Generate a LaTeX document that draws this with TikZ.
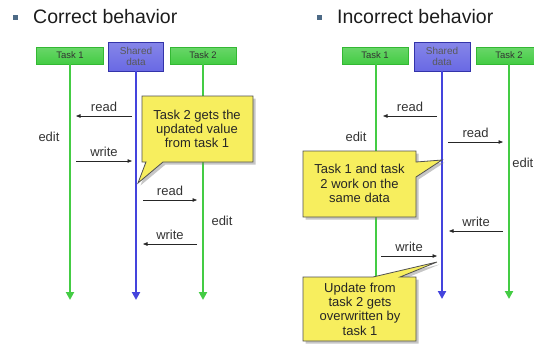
\documentclass[tikz,border=0pt]{standalone}
\usepackage{fontspec}
\setmainfont{Liberation Sans}
\usetikzlibrary{arrows.meta,shadows}

\definecolor{taskline}{HTML}{44CC44}
\definecolor{taskedge}{HTML}{33B833}
\definecolor{datline}{HTML}{4444DD}
\definecolor{datedge}{HTML}{3333AA}
\definecolor{notefill}{HTML}{F7EE5E}
\definecolor{noteedge}{HTML}{505050}
\definecolor{bulletc}{HTML}{4D6A86}
\definecolor{inkc}{HTML}{1C1C1C}

\tikzset{
  taskbox/.style={draw=taskedge, line width=0.8pt, top color=taskline!80!white,
    middle color=taskline!45!white, bottom color=taskline, minimum width=66pt,
    minimum height=17pt, inner sep=0pt, font=\fontsize{9.5}{10}\selectfont,
    text=black!80},
  databox/.style={draw=datedge, line width=0.8pt, top color=datline!65!white,
    middle color=datline!35!white, bottom color=datline!80!white, minimum width=56pt,
    minimum height=29pt, inner sep=0pt, align=center,
    font=\fontsize{10}{10.5}\selectfont, text=black!65},
  life/.style={line width=2.6pt, -{Triangle[width=8pt,length=8pt]}},
  tasklife/.style={life, taskline},
  datalife/.style={life, datline},
  msg/.style={line width=0.6pt, black!85, -{Triangle[width=3.5pt,length=4.5pt]}},
  lbl/.style={font=\fontsize{13}{14}\selectfont, text=black!80, inner sep=0pt},
  note/.style={fill=notefill, draw=noteedge, line width=0.8pt,
    drop shadow={shadow xshift=2.5pt, shadow yshift=-2.5pt, opacity=0.45}},
  notetext/.style={align=center, inner sep=0pt, text=black!85,
    font=\fontsize{13}{14.3}\selectfont},
  heading/.style={anchor=base west, inner sep=0pt, text=inkc,
    font=\fontsize{19.5}{20}\selectfont},
  bullet/.style={fill=bulletc, draw=none, minimum size=5pt, inner sep=0pt}
}

\begin{document}
\begin{tikzpicture}[x=1pt, y=-1pt]
\useasboundingbox (0,0) rectangle (534,343);

% ---------------- left: correct behaviour ----------------
\node[bullet] (bL) at (15,17.5) {};
\node[heading] (hL) at (33,23) {Correct behavior};

\node[taskbox, minimum width=67pt] (t1L) at (70,55.5) {Task 1};
\node[databox, minimum width=55pt] (sdL) at (136,56.5) {Shared\\data};
\node[taskbox] (t2L) at (203,55.5) {Task 2};

\coordinate (t1Lend) at (70,300);
\coordinate (sdLend) at (136,300);
\coordinate (t2Lend) at (203,300);
\draw[tasklife] (t1L.south) -- (t1Lend);
\draw[datalife] (sdL.south) -- (sdLend);
\draw[tasklife] (t2L.south) -- (t2Lend);

\coordinate (rdLa) at (132,116); \coordinate (rdLb) at (76,116);
\coordinate (wrLa) at (76,161);  \coordinate (wrLb) at (132,161);
\coordinate (rdLc) at (143,200); \coordinate (rdLd) at (197,200);
\coordinate (wrLc) at (197,244); \coordinate (wrLd) at (143,244);
\draw[msg] (rdLa) -- (rdLb) node[lbl, midway, anchor=base, yshift=5pt] (rdLt) {read};
\draw[msg] (wrLa) -- (wrLb) node[lbl, midway, anchor=base, yshift=5pt] (wrLt) {write};
\draw[msg] (rdLc) -- (rdLd) node[lbl, midway, anchor=base, yshift=5pt] (rdLu) {read};
\draw[msg] (wrLc) -- (wrLd) node[lbl, midway, anchor=base, yshift=5pt] (wrLu) {write};
\node[lbl] (edL1) at (49,137) {edit};
\node[lbl] (edL2) at (222,221) {edit};

\path[note] (142,96) -- (253,96) -- (253,162) -- (163,162) -- (138,183)
  -- (146,162) -- (142,162) -- cycle;
\node[notetext] (nL) at (197,129) {Task 2 gets the\\updated value\\from task 1};

% ---------------- right: incorrect behaviour ----------------
\node[bullet] (bR) at (319.5,17) {};
\node[heading] (hR) at (337,23) {Incorrect behavior};

\node[taskbox] (t1R) at (375,55.5) {Task 1};
\node[databox] (sdR) at (442,56.5) {Shared\\data};
\node[taskbox] (t2R) at (509,55.5) {Task 2};

\coordinate (t1Rend) at (376,299);
\coordinate (sdRend) at (442,299);
\coordinate (t2Rend) at (509,299);
\draw[tasklife] (t1R.south -| t1Rend) -- (t1Rend);
\draw[datalife] (sdR.south) -- (sdRend);
\draw[tasklife] (t2R.south) -- (t2Rend);

\coordinate (rdRa) at (437,116); \coordinate (rdRb) at (383,116);
\coordinate (rdRc) at (448,142); \coordinate (rdRd) at (503,142);
\coordinate (wrRc) at (503,231); \coordinate (wrRd) at (449,231);
\coordinate (wrRa) at (381,256); \coordinate (wrRb) at (437,256);
\draw[msg] (rdRa) -- (rdRb) node[lbl, midway, anchor=base, yshift=5pt] (rdRt) {read};
\draw[msg] (rdRc) -- (rdRd) node[lbl, midway, anchor=base, yshift=5pt] (rdRu) {read};
\draw[msg] (wrRc) -- (wrRd) node[lbl, midway, anchor=base, yshift=5pt] (wrRu) {write};
\draw[msg] (wrRa) -- (wrRb) node[lbl, midway, anchor=base, yshift=5pt] (wrRt) {write};
\node[lbl] (edR1) at (356,137) {edit};
\node[lbl, anchor=east] (edR2) at (533.5,163) {edit};

\path[note] (303,151) -- (416,151) -- (416,162) -- (442,160) -- (416,177)
  -- (416,217) -- (303,217) -- cycle;
\node[notetext] (nR1) at (359.5,183.5) {Task 1 and task\\2 work on the\\same data};

\path[note] (303,277) -- (373,277) -- (437,262) -- (400,277) -- (416,277)
  -- (416,341) -- (303,341) -- cycle;
\node[notetext] (nR2) at (360,309) {Update from\\task 2 gets\\overwritten by\\task 1};
\end{tikzpicture}
\end{document}
